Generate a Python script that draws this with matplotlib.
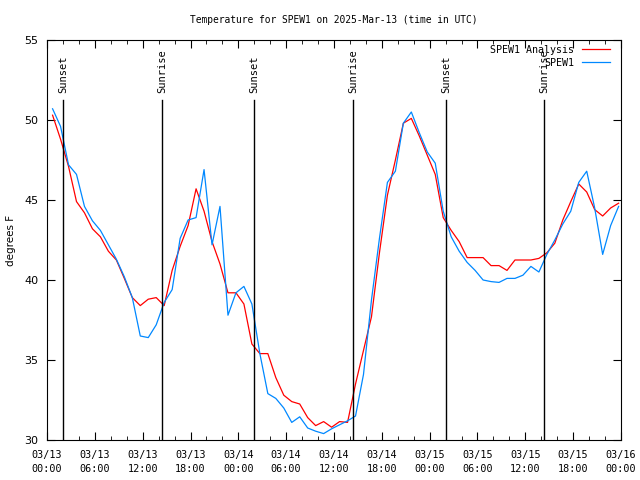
import matplotlib
matplotlib.use("Agg")
import matplotlib.pyplot as plt
from matplotlib.ticker import MultipleLocator

# hours since 03/13 00:00 UTC
hours = [0.7 + k for k in range(72)]

analysis = [50.3, 48.8, 47.1, 44.9, 44.2, 43.2, 42.7, 41.8, 41.25, 40.1,
            38.9, 38.4, 38.8, 38.9, 38.4, 40.6, 42.1, 43.4, 45.7, 44.3,
            42.4, 41.0, 39.2, 39.2, 38.5, 36.0, 35.4, 35.4, 33.9, 32.8,
            32.4, 32.25, 31.4, 30.9, 31.15, 30.8, 31.15, 31.1, 33.5, 35.6,
            37.7, 41.7, 45.3, 47.5, 49.8, 50.1, 49.0, 47.8, 46.6, 43.9,
            43.1, 42.4, 41.4, 41.4, 41.4, 40.9, 40.9, 40.6, 41.25, 41.25,
            41.25, 41.35, 41.7, 42.3, 43.75, 44.9, 46.0, 45.5, 44.4, 44.0,
            44.5, 44.8]

observed = [50.7, 49.6, 47.2, 46.6, 44.6, 43.7, 43.1, 42.2, 41.3, 40.2,
            38.9, 36.5, 36.4, 37.2, 38.6, 39.4, 42.6, 43.75, 43.9, 46.9,
            42.2, 44.6, 37.8, 39.2, 39.6, 38.5, 35.4, 32.9, 32.6, 32.0,
            31.1, 31.45, 30.75, 30.55, 30.4, 30.7, 30.95, 31.2, 31.5, 34.1,
            38.75, 42.6, 46.1, 46.8, 49.8, 50.5, 49.2, 48.0, 47.3, 44.3,
            42.7, 41.8, 41.1, 40.6, 40.0, 39.9, 39.85, 40.1, 40.1, 40.3,
            40.85, 40.5, 41.6, 42.5, 43.5, 44.3, 46.1, 46.8, 44.5, 41.6,
            43.4, 44.6]

sun_times = [2.0, 14.4, 26.0, 38.4, 50.1, 62.4]
sun_labels = ["Sunset", "Sunrise", "Sunset", "Sunrise", "Sunset", "Sunrise"]

xtick_pos = [0, 6, 12, 18, 24, 30, 36, 42, 48, 54, 60, 66, 72]
xtick_labels = ["03/13\n00:00", "03/13\n06:00", "03/13\n12:00", "03/13\n18:00",
                "03/14\n00:00", "03/14\n06:00", "03/14\n12:00", "03/14\n18:00",
                "03/15\n00:00", "03/15\n06:00", "03/15\n12:00", "03/15\n18:00",
                "03/16\n00:00"]

mono = "DejaVu Sans Mono"
fig = plt.figure(figsize=(6.4, 4.8), dpi=100)
ax = fig.add_axes([47 / 640, 1 - 440 / 480, 574 / 640, 400 / 480])

ax.plot(hours, analysis, color="#ff0000", lw=0.9, label="SPEW1 Analysis")
ax.plot(hours, observed, color="#0088ff", lw=0.9, label="SPEW1")

# sunrise / sunset markers
for t, lab in zip(sun_times, sun_labels):
    ax.plot([t, t], [30, 51.25], color="black", lw=1.0)
    ax.text(t, 51.7, lab, rotation=90, ha="center", va="bottom",
            fontsize=7.5, family=mono)

ax.set_xlim(0, 72)
ax.set_ylim(30, 55)
ax.set_xticks(xtick_pos)
ax.set_xticklabels(xtick_labels, family=mono, fontsize=7.3, linespacing=1.5)
ax.xaxis.set_minor_locator(MultipleLocator(2))
ax.set_yticks([30, 35, 40, 45, 50, 55])
ax.tick_params(axis="y", labelsize=8, pad=6)
ax.tick_params(axis="x", pad=7)
ax.tick_params(which="both", direction="in", top=True, right=True)
ax.tick_params(which="major", length=6)
ax.tick_params(which="minor", length=3)

ax.set_title("Temperature for SPEW1 on 2025-Mar-13 (time in UTC)",
             family=mono, fontsize=6.9, pad=12)
ax.set_ylabel("degrees F", fontsize=7.5, labelpad=6)

ax.legend(loc="upper right", frameon=False, markerfirst=False,
          prop={"family": mono, "size": 7.2}, handlelength=2.8,
          handletextpad=0.8, borderpad=0.0, borderaxespad=0.0,
          labelspacing=0.3, bbox_to_anchor=(0.981, 0.9875))

plt.savefig("out.png", dpi=100)
